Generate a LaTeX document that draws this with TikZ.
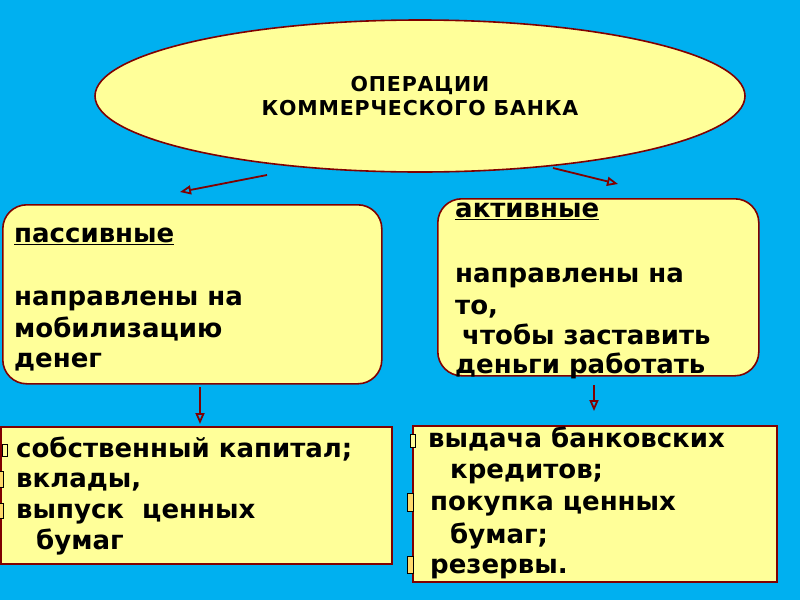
\documentclass[tikz,border=0pt]{standalone}
\usepackage{fontspec}
\setmainfont{DejaVu Sans}
\usetikzlibrary{arrows.meta,shapes.geometric}

\definecolor{slidebg}{RGB}{0,176,240}
\definecolor{paleyellow}{RGB}{255,255,153}
\definecolor{maroon}{RGB}{128,0,0}
\newcommand\bodyfont{\fontsize{26}{31}\selectfont\bfseries}
\newcommand\titlefont{\fontsize{20.5}{24}\selectfont\bfseries\addfontfeature{LetterSpace=4}}

\begin{document}
\begin{tikzpicture}[
  x=1pt,
  y=-1pt,
  panel/.style={fill=paleyellow,draw=maroon,line width=1.6pt,inner sep=0pt},
  roundpanel/.style={panel,rounded corners=24pt,anchor=north west},
  flatpanel/.style={panel,anchor=north west},
  txt/.style={font=\bodyfont,anchor=base west,inner sep=0pt},
  link/.style={draw=maroon,line width=1.8pt,-{Triangle[open,length=11pt,width=9pt]}},
  bulletbox/.style={draw=black,line width=0.9pt,fill=paleyellow!70!orange}
]
\useasboundingbox (0,0) rectangle (800,600);
\fill[slidebg] (0,0) rectangle (800,600);

% top ellipse
\node[ellipse,panel,minimum width=650pt,minimum height=152pt,
  align=center,font=\titlefont] (ops) at (420,96)
  {ОПЕРАЦИИ\\КОММЕРЧЕСКОГО БАНКА};

% the two kinds of operations
\node[roundpanel,minimum width=379pt,minimum height=179pt] (passive) at (2,204) {};
\node[roundpanel,minimum width=321pt,minimum height=177pt] (active) at (437,198) {};

\node[txt] (pas1) at (14,242) {\underline{пассивные}};
\node[txt] (pas2) at (14,305) {направлены на};
\node[txt] (pas3) at (14,337) {мобилизацию};
\node[txt] (pas4) at (14,367) {денег};

\node[txt] (act1) at (455,217) {\underline{активные}};
\node[txt] (act2) at (455,282) {направлены на};
\node[txt] (act3) at (455,314) {то,};
\node[txt] (act4) at (462,344) {чтобы заставить};
\node[txt] (act5) at (455,373) {деньги работать};

% lists
\node[flatpanel,minimum width=391pt,minimum height=137pt] (passlist) at (0,426) {};
\node[flatpanel,minimum width=364pt,minimum height=156pt] (actlist) at (412,425) {};

\draw[bulletbox,fill=paleyellow] (2,444) rectangle (7,456);
\draw[bulletbox] (-2,471) rectangle (3,487);
\draw[bulletbox] (-2,503) rectangle (3,518);
\node[txt] (pl1) at (16,457) {собственный капитал;};
\node[txt] (pl2) at (16,487) {вклады,};
\node[txt] (pl3) at (16,518) {выпуск\ \ ценных};
\node[txt] (pl4) at (36,549) {бумаг};

\draw[bulletbox,fill=paleyellow] (410,434) rectangle (415,447);
\draw[bulletbox] (407,493) rectangle (413,511);
\draw[bulletbox] (407,556) rectangle (413,573);
\node[txt] (al1) at (428,447) {выдача банковских};
\node[txt] (al2) at (450,478) {кредитов;};
\node[txt] (al3) at (430,510) {покупка ценных};
\node[txt] (al4) at (450,543) {бумаг;};
\node[txt] (al5) at (430,573) {резервы.};

% arrows
\coordinate (opsL) at (267,175);
\coordinate (opsR) at (553,168);
\coordinate (pasTop) at (180,192);
\coordinate (actTop) at (618,184);
\coordinate (pasBot) at (200,387);
\coordinate (actBot) at (594,385);
\coordinate (plTop) at (200,424);
\coordinate (alTop) at (594,411);
\draw[link] (opsL) -- (pasTop);
\draw[link] (opsR) -- (actTop);
\draw[link] (pasBot) -- (plTop);
\draw[link] (actBot) -- (alTop);
\end{tikzpicture}
\end{document}
